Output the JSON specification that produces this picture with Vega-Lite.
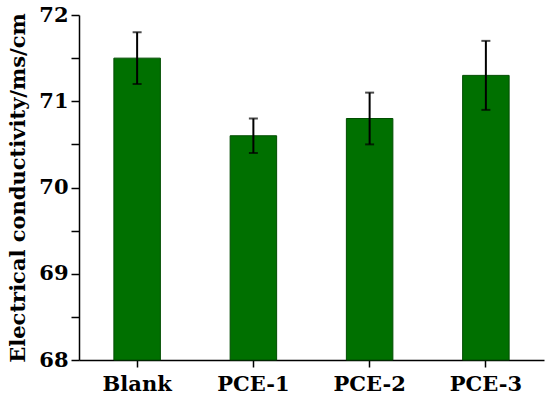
{
  "$schema": "https://vega.github.io/schema/vega-lite/v6.json",
  "autosize": "none",
  "width": 465,
  "height": 345,
  "padding": {"left": 79, "top": 15, "right": 6, "bottom": 39},
  "background": "white",
  "config": {
    "view": {"stroke": null},
    "axis": {
      "grid": false,
      "domainColor": "black",
      "domainWidth": 1.5,
      "labelColor": "black",
      "titleColor": "black"
    }
  },
  "data": {
    "values": [
      {"sample": "Blank", "value": 71.5, "lo": 71.2, "hi": 71.8},
      {"sample": "PCE-1", "value": 70.6, "lo": 70.4, "hi": 70.8},
      {"sample": "PCE-2", "value": 70.8, "lo": 70.5, "hi": 71.1},
      {"sample": "PCE-3", "value": 71.3, "lo": 70.9, "hi": 71.7}
    ]
  },
  "encoding": {
    "x": {
      "field": "sample",
      "type": "nominal",
      "sort": null,
      "scale": {"paddingInner": 0.6, "paddingOuter": 0.3},
      "axis": {
        "title": null,
        "labelAngle": 0,
        "labelFont": "DejaVu Serif",
        "labelFontWeight": "bold",
        "labelFontSize": 21,
        "labelPadding": 6,
        "tickColor": "black",
        "tickWidth": 1.5,
        "tickSize": 7
      }
    }
  },
  "layer": [
    {
      "mark": {"type": "bar", "fill": "#007000", "stroke": "#004d00", "strokeWidth": 1},
      "encoding": {
        "y": {
          "field": "value",
          "type": "quantitative",
          "scale": {"domain": [68, 72], "zero": false, "nice": false},
          "axis": {
            "title": "Electrical conductivity/ms/cm",
            "titleFont": "DejaVu Serif",
            "titleFontWeight": "bold",
            "titleFontSize": 21,
            "titlePadding": 10,
            "tickCount": 8,
            "labelExpr": "datum.value % 1 === 0 ? format(datum.value, 'd') : ''",
            "tickColor": "black",
            "tickWidth": 1.5,
            "tickSize": 8,
            "labelFont": "DejaVu Serif",
            "labelFontWeight": "bold",
            "labelFontSize": 21,
            "labelPadding": 3
          }
        },
        "y2": {"datum": 68}
      }
    },
    {
      "mark": {"type": "rule", "color": "black", "strokeWidth": 2},
      "encoding": {
        "y": {"field": "lo", "type": "quantitative"},
        "y2": {"field": "hi"}
      }
    },
    {
      "mark": {"type": "tick", "color": "black", "thickness": 2, "size": 9},
      "encoding": {
        "y": {"field": "lo", "type": "quantitative"}
      }
    },
    {
      "mark": {"type": "tick", "color": "black", "thickness": 2, "size": 9},
      "encoding": {
        "y": {"field": "hi", "type": "quantitative"}
      }
    }
  ]
}
